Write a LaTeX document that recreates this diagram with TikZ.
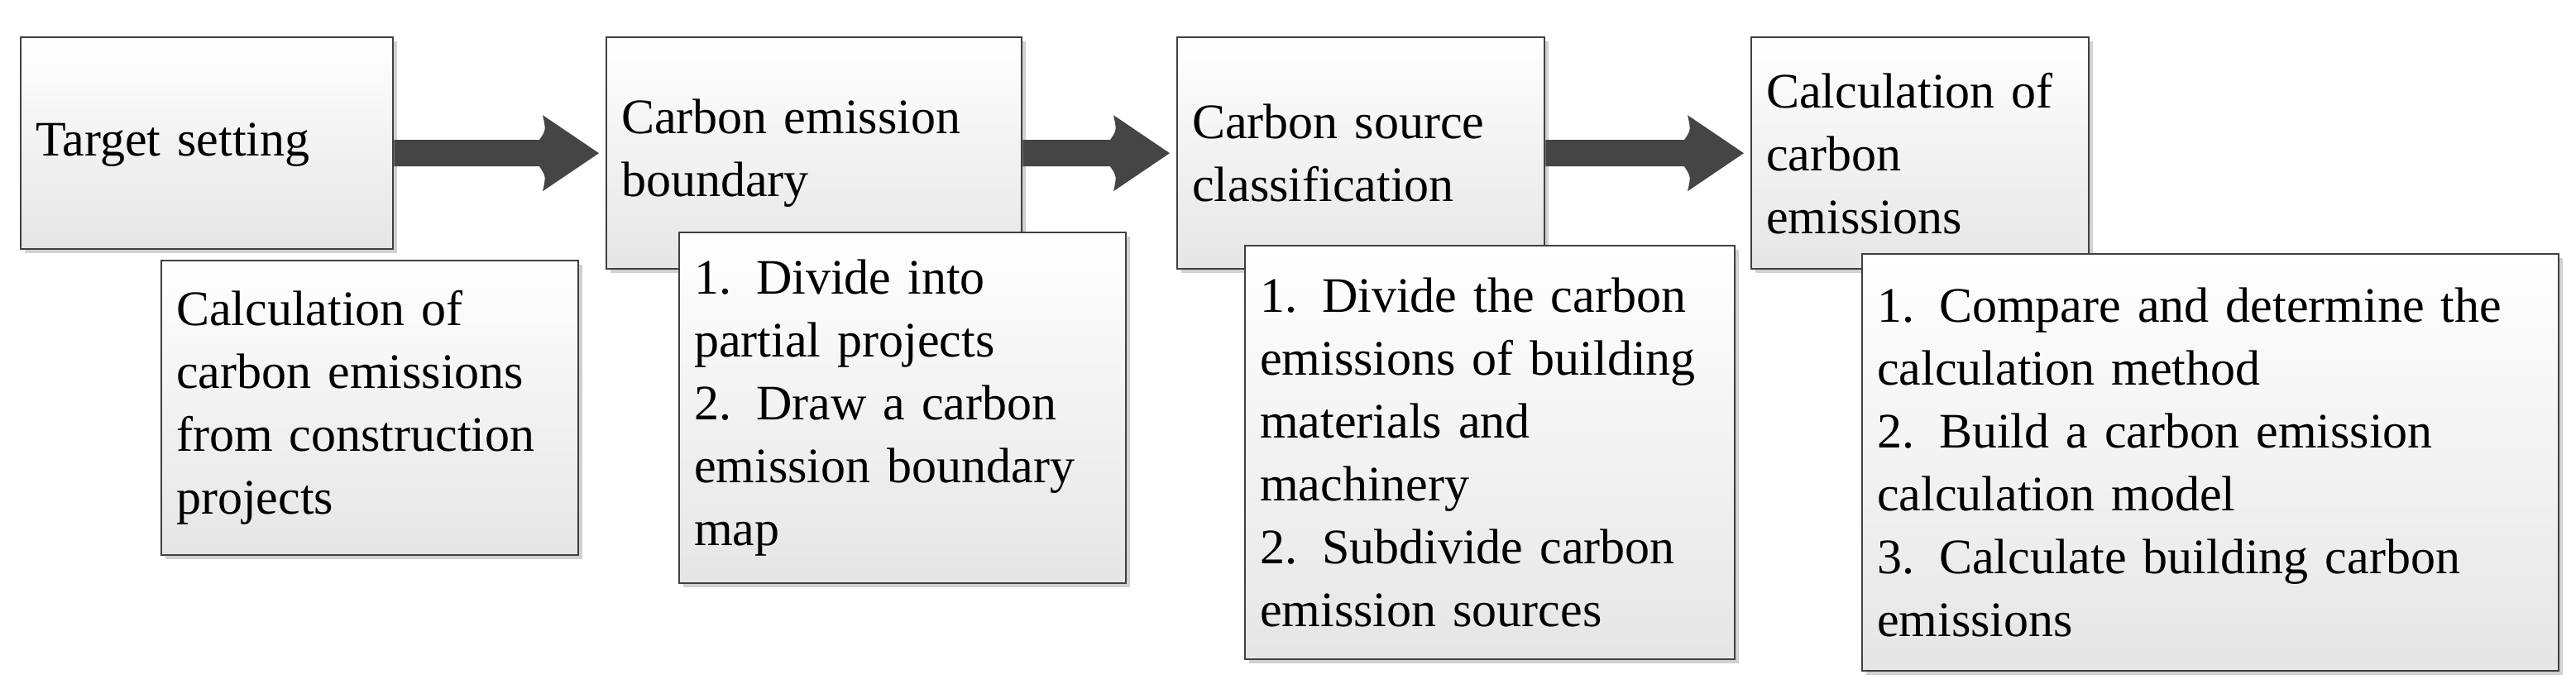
\documentclass[tikz,border=0pt]{standalone}
\usepackage{fontspec}
\newfontfamily\tnr{Liberation Serif}
\usetikzlibrary{shadows,calc}
\definecolor{edge}{gray}{0.25}
\definecolor{arr}{gray}{0.27}
\tikzset{
 box/.style={draw=edge, line width=1.2pt, top color=white, bottom color=black!10,
  drop shadow={shadow xshift=2.5pt, shadow yshift=-2.5pt, fill=black!18, opacity=1},
  anchor=north west, inner sep=0pt, align=left, font=\tnr\fontsize{30}{38}\selectfont},
}
\newcommand{\mkbox}[6]{% name, x1,y1,x2,y2,text
 \node[box, minimum width=#4-#2, minimum height=#5-#3, text width=#4-#2-18] (#1) at (#2,#3) {#6};}
\newcommand{\bigarrow}[2]{%
 \fill[arr] let \p1=(#1.east), \p2=(#2.west) in
  (\x1,\y2+8) -- (\x2-40,\y2+8) .. controls (\x2-36,\y2+14) .. (\x2-38,\y2+23) -- (\x2-4,\y2)
  -- (\x2-38,\y2-23) .. controls (\x2-36,\y2-14) .. (\x2-40,\y2-8) -- (\x1,\y2-8) -- cycle;}
\begin{document}
\begin{tikzpicture}[x=1pt,y=-1pt]
\useasboundingbox (0,0) rectangle (1557,416.5);
\mkbox{a}{12}{22}{237}{150}{\strut Target setting}
\mkbox{a2}{97}{157}{349}{335}{Calculation of\\carbon emissions\\from construction\\projects}
\mkbox{b}{366}{22}{617}{162}{Carbon emission\\boundary}
\mkbox{b2}{410}{140}{680}{352}{1. Divide into\\partial projects\\2. Draw a carbon\\emission boundary\\map}
\mkbox{c}{711}{22}{933}{162}{Carbon source\\classification}
\mkbox{c2}{752}{148}{1048}{398}{1. Divide the carbon\\emissions of building\\materials and\\machinery\\2. Subdivide carbon\\emission sources}
\mkbox{d}{1058}{22}{1262}{162}{Calculation of\\carbon\\emissions}
\mkbox{d2}{1125}{153}{1546}{405}{1. Compare and determine the\\calculation method\\2. Build a carbon emission\\calculation model\\3. Calculate building carbon\\emissions}
\bigarrow{a}{b}
\bigarrow{b}{c}
\bigarrow{c}{d}
\end{tikzpicture}
\end{document}
